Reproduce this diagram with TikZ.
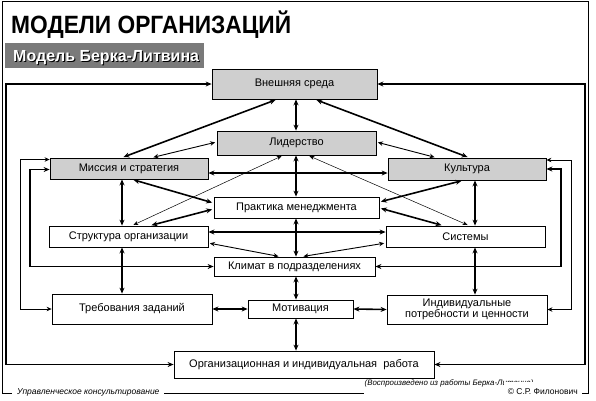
\documentclass[tikz,border=0pt]{standalone}
\usepackage{fontspec}
\setmainfont{Liberation Sans}
\usepackage{graphicx}
\usepackage{tikz}
\usetikzlibrary{arrows.meta}
\colorlet{boxgray}{gray!38!white}
\colorlet{bandgray}{black!52}

\tikzset{
  blk/.style={draw, line width=0.8pt, fill=white, inner sep=1pt, font=\fontsize{11}{12}\selectfont},
  shd/.style={blk, fill=boxgray},
  lnk/.style={<->, >={Stealth[length=6pt,width=5pt]}, line width=1.6pt},
  lnkm/.style={<->, >={Stealth[length=5pt,width=4.5pt]}, line width=0.9pt},
  lnkt/.style={<->, >={Stealth[length=5pt,width=4pt]}, line width=0.5pt},
  lnkl/.style={<->, >={Stealth[length=5pt,width=4.5pt]}, line width=1pt},
  dg/.style={shorten <=1.5pt, shorten >=1.5pt},
  foot/.style={fill=white, font=\itshape\fontsize{8.5}{9}\selectfont}
}

\begin{document}
\begin{tikzpicture}[x=1pt,y=-1pt]
      \useasboundingbox (0,0) rectangle (596,400);
      \draw [line width=0.8pt] (2,1) rectangle (588,393);

      \node [anchor=base west, inner sep=0pt, font=\bfseries\fontsize{25}{25}\selectfont] (title) at (11,33) {\scalebox{0.91}[1]{МОДЕЛИ ОРГАНИЗАЦИЙ}};
      \node [fill=bandgray, minimum width=199pt, minimum height=25pt, inner sep=0pt] (band) at (104.5,55.5) {};
      \node [anchor=base west, inner sep=0pt, text=black, font=\bfseries\fontsize{16}{16}\selectfont] (subshadow) at (14,62) {Модель Берка-Литвина};
      \node [anchor=base west, inner sep=0pt, text=white, font=\bfseries\fontsize{16}{16}\selectfont] (sub) at (13,61) {Модель Берка-Литвина};

      \node [shd, minimum width=165pt, minimum height=30pt] (ext) at (294.5,84) {Внешняя среда};
      \node [shd, minimum width=159pt, minimum height=24pt] (lid) at (296.5,143) {Лидерство};
      \node [shd, minimum width=158pt, minimum height=21pt] (mis) at (129,168.5) {Миссия и стратегия};
      \node [shd, minimum width=158pt, minimum height=22pt] (cul) at (467,169) {Культура};
      \node [blk, minimum width=165pt, minimum height=21pt] (pra) at (296.5,207.5) {Практика менеджмента};
      \node [blk, minimum width=159pt, minimum height=21pt] (str) at (128.5,236.5) {Структура организации};
      \node [blk, minimum width=159pt, minimum height=21pt] (sys) at (465.5,236.5) {Системы};
      \node [blk, minimum width=161pt, minimum height=19pt] (kli) at (294.5,266.5) {Климат в подразделениях};
      \node [blk, minimum width=160pt, minimum height=30pt] (tre) at (132,309) {Требования заданий};
      \node [blk, minimum width=105pt, minimum height=18pt] (mot) at (300.5,309) {Мотивация};
      \node [blk, minimum width=160pt, minimum height=29pt, align=center, font=\fontsize{11}{11.5}\selectfont] (ind) at (467,309.5) {Индивидуальные\\потребности и ценности};
      \node [blk, minimum width=260pt, minimum height=27pt] (org) at (304,364.5) {Организационная и индивидуальная\ \ работа};

      \coordinate (cax) at (296,0);
      \coordinate (lax) at (122,0);
      \coordinate (rax) at (475,0);
      \coordinate (lo) at (6,0);
      \coordinate (ro) at (585,0);
      \coordinate (l1) at (20,0);
      \coordinate (l2) at (30,0);
      \coordinate (r1) at (571,0);
      \coordinate (r2) at (561,0);

      \draw [lnk] (ext.south -| cax) -- (lid.north -| cax);
      \draw [lnk] (lid.south -| cax) -- (pra.north -| cax);
      \draw [lnk] (pra.south -| cax) -- (kli.north -| cax);
      \draw [lnk] (kli.south -| cax) -- (mot.north -| cax);
      \draw [lnk] (mot.south -| cax) -- (org.north -| cax);
      \draw [lnk] (mis.south -| lax) -- (str.north -| lax);
      \draw [lnk] (str.south -| lax) -- (tre.north -| lax);
      \draw [lnk] (cul.south -| rax) -- (sys.north -| rax);
      \draw [lnk] (sys.south -| rax) -- (ind.north -| rax);

      \draw [lnk] ([yshift=-4.5pt]mis.east) -- ([yshift=-4pt]cul.west);
      \draw [lnk] ([yshift=4.5pt]str.east) -- ([yshift=4.5pt]sys.west);
      \draw [lnk] (tre.east) -- (mot.west);
      \draw [lnk] (mot.east) -- (ind.west);

      \draw [lnk,dg] ([xshift=-7pt]mis.north) -- ([xshift=-17.5pt]ext.south);
      \draw [lnk,dg] ([xshift=20.5pt]ext.south) -- ([xshift=2pt]cul.north);
      \draw [lnkm,dg] ([xshift=23pt]mis.north) -- ([yshift=1pt]lid.west);
      \draw [lnkm,dg] ([yshift=1pt]lid.east) -- ([xshift=-31pt]cul.north);
      \draw [lnkt,dg] ([xshift=-13.5pt]lid.south) -- ([xshift=3.5pt]str.north);
      \draw [lnkt,dg] ([xshift=11.5pt]lid.south) -- ([xshift=3.5pt]sys.north);
      \draw [lnk,dg] ([xshift=3pt]mis.south) -- ([yshift=4.5pt]pra.west);
      \draw [lnk,dg] ([xshift=-4pt]cul.south) -- ([yshift=5.5pt]pra.east);
      \draw [lnk,dg] ([xshift=21.5pt]str.north) -- ([yshift=-1.5pt]pra.west);
      \draw [lnk,dg] ([yshift=-0.5pt]pra.east) -- ([xshift=-22.5pt]sys.north);
      \draw [lnkm,dg] ([yshift=-6.5pt]str.east) -- ([xshift=-14.5pt]kli.north);
      \draw [lnkm,dg] ([yshift=-6.5pt]sys.west) -- ([xshift=7.5pt]kli.north);

      \draw [lnk] (org.west) -| (lo |- ext.west) -- (ext.west);
      \draw [lnk] (org.east) -| (ro |- ext.east) -- (ext.east);
      \draw [lnkl] ([yshift=9pt]mis.west) -| (l1 |- tre.west) -- (tre.west);
      \draw [lnk] ([yshift=-1pt]mis.west) -| (l2 |- kli.west) -- (kli.west);
      \draw [lnkl] ([yshift=9pt]cul.east) -| (r1 |- ind.east) -- (ind.east);
      \draw [lnk] (cul.east) -| (r2 |- kli.east) -- (kli.east);

      \node [foot, anchor=west, inner xsep=5pt, inner ysep=1pt] (cons) at (12,392.5) {Управленческое консультирование};
      \node [foot, anchor=base west, inner sep=0.5pt, text height=6pt, text depth=9pt, font=\itshape\fontsize{7.9}{8}\selectfont] (src) at (364,385.5) {(Воспроизведено из работы Берка-Литвина)};
      \node [fill=white, anchor=base east, inner xsep=4pt, inner ysep=0.5pt, text height=12.5pt, text depth=4pt, font=\fontsize{8.5}{9}\selectfont] (copy) at (582,394.5) {© С.Р. Филонович};
    \end{tikzpicture}
\end{document}
